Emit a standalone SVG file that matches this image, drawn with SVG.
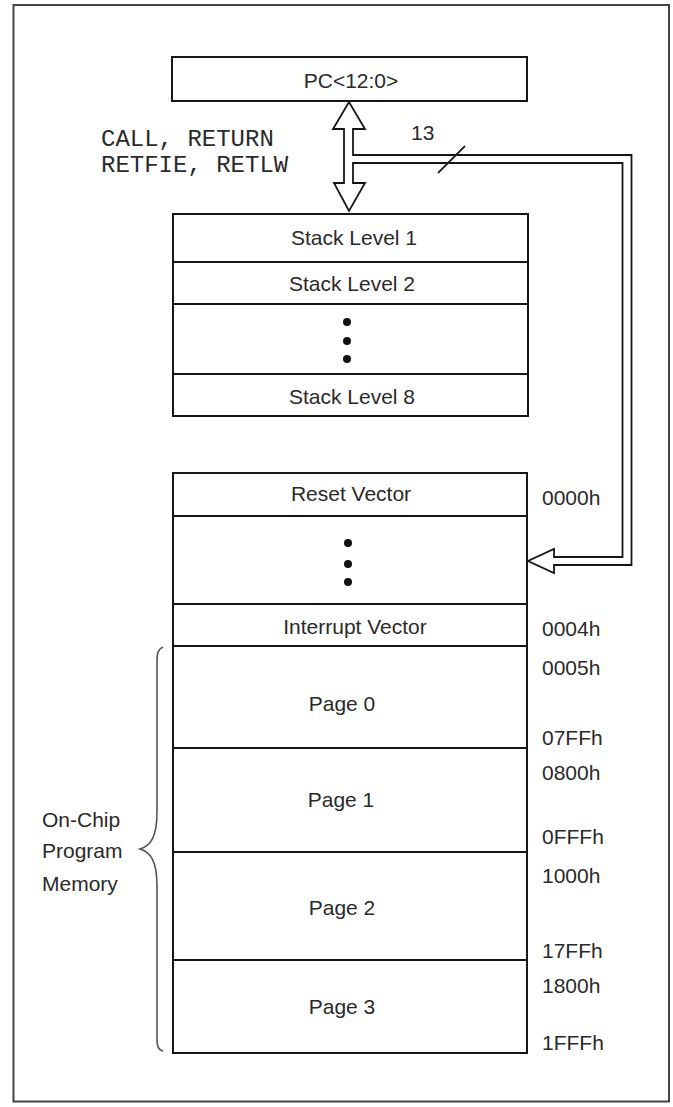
<svg xmlns="http://www.w3.org/2000/svg" width="673" height="1107" viewBox="0 0 673 1107">
<style>
.box{fill:#fff;stroke:#161616;stroke-width:2}
.sep{stroke:#161616;stroke-width:2}
.t{font-family:"Liberation Sans",Arial,sans-serif;font-size:21px;fill:#2a2a2a}
.c{text-anchor:middle}
.m{font-family:"Liberation Mono","Courier New",monospace;font-size:24px;fill:#2a2a2a}
.dot{fill:#111}
</style>
<rect x="0" y="0" width="673" height="1107" fill="#fff"/>
<rect id="frame" x="13.5" y="5" width="655.5" height="1096.5" fill="none" stroke="#444" stroke-width="2"/>
<g id="pc">
<rect class="box" x="172" y="57" width="355" height="44"/>
<text class="t c" x="351" y="88">PC&lt;12:0&gt;</text>
</g>
<g id="stack">
<rect class="box" x="173" y="214" width="355" height="202"/>
<line class="sep" x1="172" y1="262" x2="528" y2="262"/>
<line class="sep" x1="172" y1="304" x2="528" y2="304"/>
<line class="sep" x1="172" y1="374" x2="528" y2="374"/>
<text class="t c" x="354" y="245">Stack Level 1</text>
<text class="t c" x="352" y="291">Stack Level 2</text>
<circle class="dot" cx="347" cy="322" r="4"/>
<circle class="dot" cx="347" cy="341" r="4"/>
<circle class="dot" cx="347" cy="359" r="4"/>
<text class="t c" x="352" y="404">Stack Level 8</text>
</g>
<g id="memory">
<rect class="box" x="173" y="473" width="354" height="580"/>
<line class="sep" x1="172" y1="516" x2="527" y2="516"/>
<line class="sep" x1="172" y1="604" x2="527" y2="604"/>
<line class="sep" x1="172" y1="646" x2="527" y2="646"/>
<line class="sep" x1="172" y1="748" x2="527" y2="748"/>
<line class="sep" x1="172" y1="852" x2="527" y2="852"/>
<line class="sep" x1="172" y1="960" x2="527" y2="960"/>
<text class="t c" x="351" y="501">Reset Vector</text>
<circle class="dot" cx="348" cy="543" r="4"/>
<circle class="dot" cx="348" cy="564" r="4"/>
<circle class="dot" cx="348" cy="582" r="4"/>
<text class="t c" x="355" y="634">Interrupt Vector</text>
<text class="t c" x="342" y="711">Page 0</text>
<text class="t c" x="341" y="807">Page 1</text>
<text class="t c" x="342" y="915">Page 2</text>
<text class="t c" x="342" y="1014">Page 3</text>
</g>
<g id="addresses">
<text class="t" x="542" y="505">0000h</text>
<text class="t" x="542" y="636">0004h</text>
<text class="t" x="542" y="675">0005h</text>
<text class="t" x="542" y="745">07FFh</text>
<text class="t" x="542" y="780">0800h</text>
<text class="t" x="542" y="844">0FFFh</text>
<text class="t" x="542" y="883">1000h</text>
<text class="t" x="542" y="958">17FFh</text>
<text class="t" x="542" y="993">1800h</text>
<text class="t" x="542" y="1050">1FFFh</text>
</g>
<g id="label-onchip">
<text class="t" x="42" y="827">On-Chip</text>
<text class="t" x="42" y="858">Program</text>
<text class="t" x="42" y="891">Memory</text>
</g>
<g id="label-instr">
<text class="m" x="101" y="146">CALL, RETURN</text>
<text class="m" x="101" y="172">RETFIE, RETLW</text>
</g>
<g id="connectors">
<path d="M349,102 L365,129 L353,129 L353,155 L631.5,155 L631.5,565 L554,565 L554,573 L528,561 L554,549 L554,557 L622.5,557 L622.5,163 L353,163 L353,183 L365,183 L349,211 L334,183 L344,183 L344,129 L333,129 Z" fill="#fff" stroke="#161616" stroke-width="1.8" stroke-linejoin="miter"/>
<line x1="438" y1="173" x2="465" y2="146" stroke="#222" stroke-width="1.8"/>
<text class="t" x="411" y="140">13</text>
<path d="M163,647 C158,649 157,653 157,662 L157,812 C157,838 150,846 140,849 C150,852 157,860 157,886 L157,1038 C157,1046 158,1050 163,1051" fill="none" stroke="#555" stroke-width="1.6"/>
</g>
</svg>
